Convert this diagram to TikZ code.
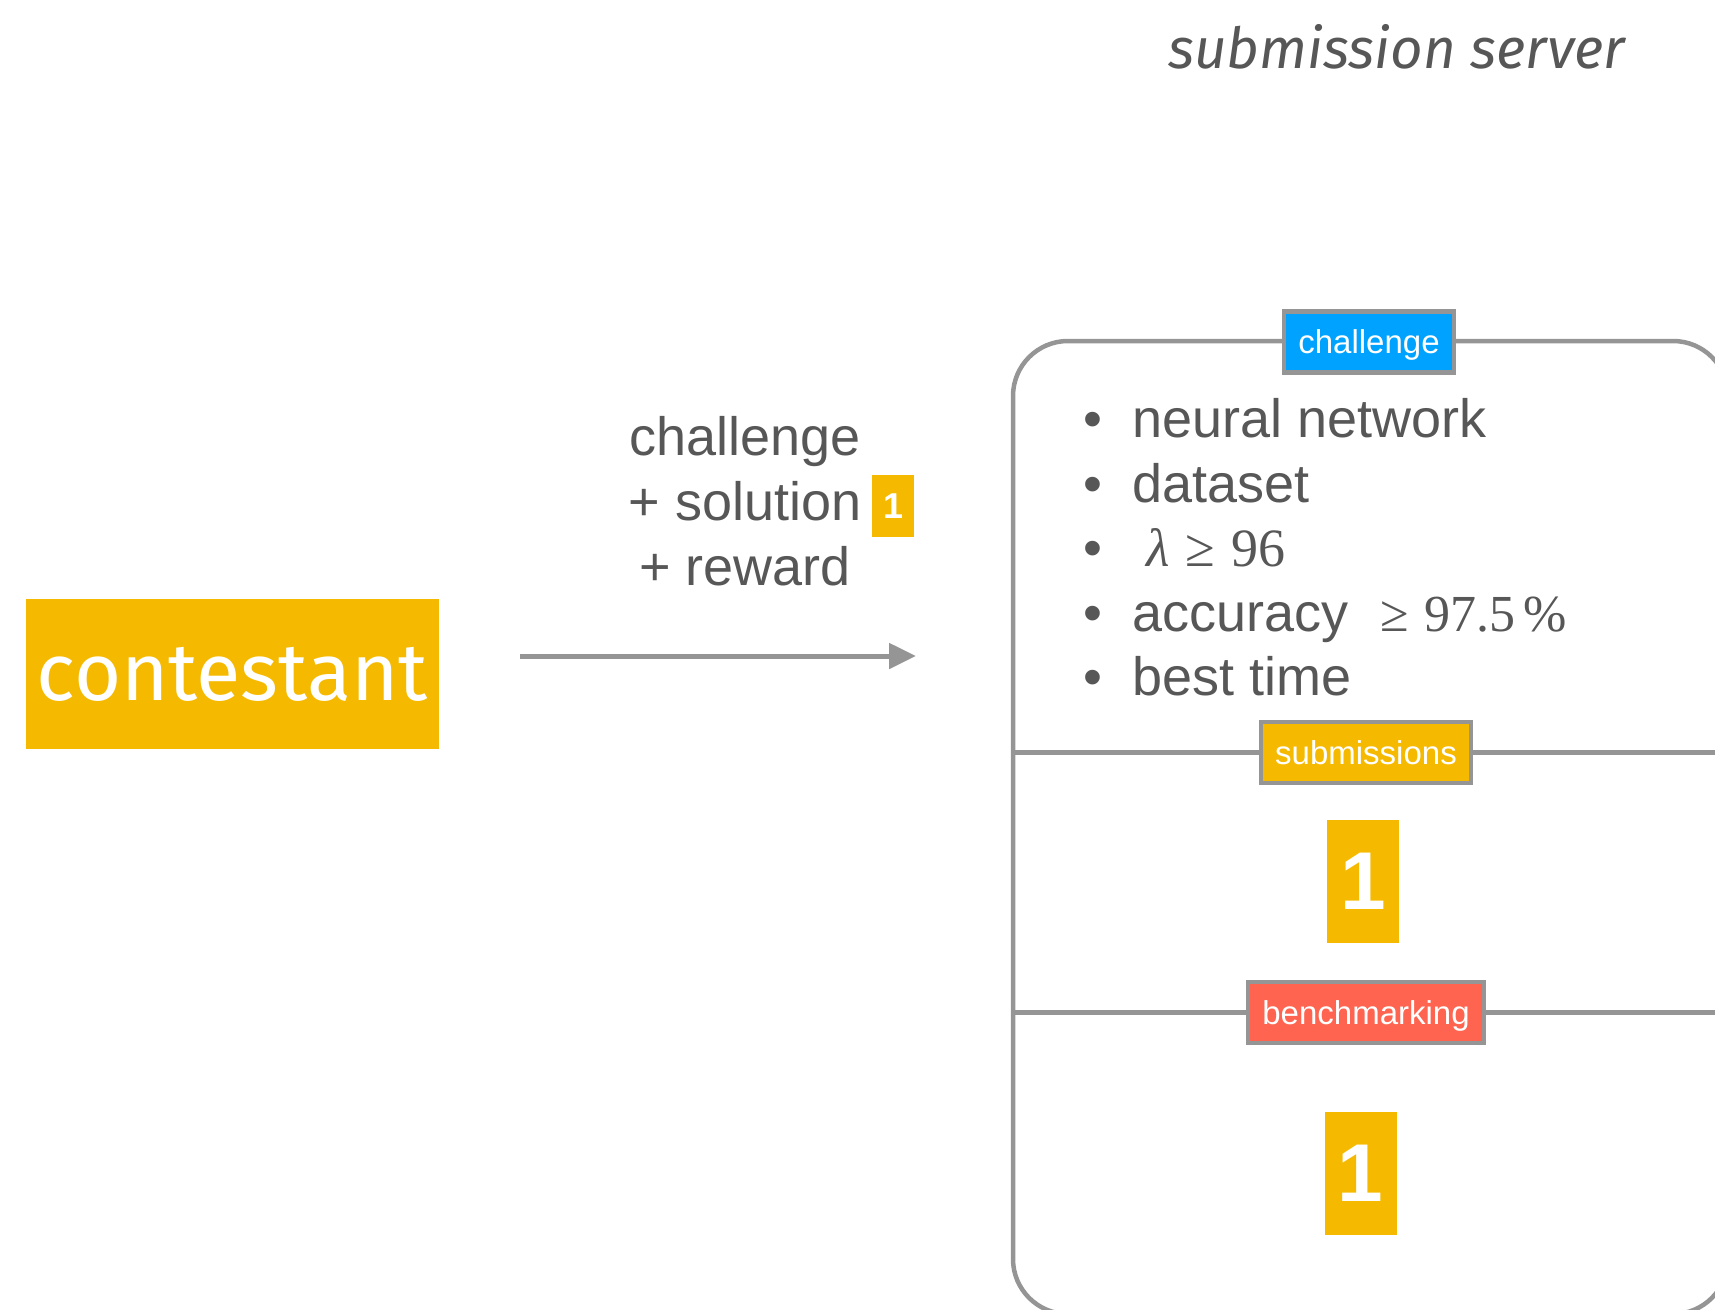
\documentclass[tikz,border=0pt]{standalone}
\usepackage{fontspec}
\setmainfont{Liberation Sans}
\newfontfamily\mathserif{Liberation Serif}
\newfontfamily\brandfont{Fira Sans}
\usetikzlibrary{arrows.meta}

\definecolor{amber}{HTML}{F5BA00}
\definecolor{skyblue}{HTML}{00A2FF}
\definecolor{tomato}{HTML}{FF6450}
\definecolor{linegray}{HTML}{959595}
\definecolor{textgray}{HTML}{575757}

\tikzset{
  frame/.style={draw=linegray, line width=4.5pt},
  tag/.style={draw=linegray, line width=4.5pt, text=white, inner xsep=14.25pt,
    inner ysep=0pt, minimum height=61pt, text depth=0pt,
    font=\fontsize{33}{33}\selectfont},
  countbox/.style={fill=amber, text=white, inner sep=0pt,
    font=\bfseries\fontsize{82}{82}\selectfont, minimum width=72pt, minimum height=123pt},
  bodytext/.style={text=textgray, inner sep=0pt, font=\fontsize{54}{65}\selectfont},
  bulletdot/.style={text=textgray, inner sep=0pt, font=\fontsize{54}{65}\selectfont},
}

\begin{document}
\begin{tikzpicture}[x=1pt, y=-1pt]
\useasboundingbox (0,0) rectangle (1715,1309);
\clip (0,0) rectangle (1715,1309);

% heading
\node[anchor=base west, inner sep=0pt, text=textgray,
      font=\brandfont\itshape\fontsize{56.5}{56.5}\selectfont] (title) at (1168,68)
      {submission server};

% contestant
\node[fill=amber, text=white, inner sep=0pt, minimum width=413pt, minimum height=150pt,
      font=\brandfont\fontsize{81}{81}\selectfont] (contestant) at (232.5,674) {contestant};

% message label
\node[bodytext, anchor=base] (lchallenge) at (745,455) {challenge};
\node[bodytext, anchor=base] (lsolution) at (745,520) {+ solution};
\node[bodytext, anchor=base] (lreward) at (745,585) {+ reward};
\node[fill=amber, text=white, inner sep=0pt, minimum width=42pt, minimum height=62pt,
      font=\bfseries\fontsize{36}{36}\selectfont] (lone) at (893,506) {1};

% server frame
\node[frame, rounded corners=55pt, minimum width=715pt, minimum height=973pt,
      anchor=north west, inner sep=0pt, outer sep=0pt] (server) at (1013,341) {};

% section dividers
\coordinate (subline) at (1366,752.5);
\coordinate (benchline) at (1366,1012.5);
\draw[frame] (server.west |- subline) -- (server.east |- subline);
\draw[frame] (server.west |- benchline) -- (server.east |- benchline);

% section tags
\node[tag, fill=skyblue] (tchallenge) at (1369,342) {challenge};
\node[tag, fill=amber] (tsubmissions) at (subline) {submissions};
\node[tag, fill=tomato] (tbench) at (benchline) {benchmarking};

% challenge requirements
\foreach \y/\n in {437/1,502/2,566/3,631/4,695/5}
  \node[bulletdot, anchor=base] (dot\n) at (1093,\y) {•};
\node[bodytext, anchor=base west] (req1) at (1132,437) {neural network};
\node[bodytext, anchor=base west] (req2) at (1132,502) {dataset};
\node[bodytext, anchor=base west] (req3) at (1132,566)
  {\mathserif\hspace{14pt}\itshape λ\upshape\hspace{16pt}≥\hspace{16pt}96};
\node[bodytext, anchor=base west] (req4) at (1132,631)
  {accuracy\hspace{32pt}{\mathserif\fontsize{52}{65}\selectfont ≥\hspace{16pt}97.5\hspace{8pt}\%}};
\node[bodytext, anchor=base west] (req5) at (1132,695) {best time};

% queued items
\node[countbox] (subone) at (1363,881.5) {1};
\node[countbox] (benchone) at (1360.5,1173) {1};

% submission arrow
\coordinate (arrowstart) at (520,656);
\coordinate (arrowend) at (916,656);
\draw[draw=linegray, line width=5pt, -{Triangle[length=27pt,width=25pt]}]
  (arrowstart) -- (arrowend);
\end{tikzpicture}
\end{document}
